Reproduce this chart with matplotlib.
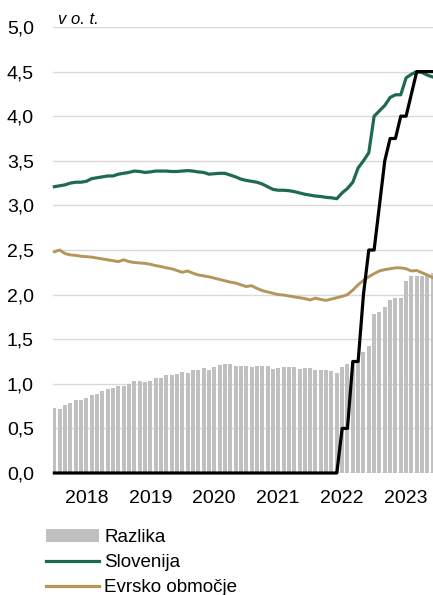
import matplotlib
matplotlib.use("Agg")
import matplotlib.pyplot as plt
import numpy as np
from matplotlib.patches import Patch
from matplotlib.lines import Line2D

# monthly data, Jan 2018 - Dec 2023
razlika = [0.73, 0.72, 0.76, 0.79, 0.815, 0.815, 0.84, 0.88, 0.89, 0.92,
           0.94, 0.955, 0.98, 0.97, 1.00, 1.03, 1.03, 1.015, 1.035, 1.06,
           1.07, 1.095, 1.095, 1.11, 1.135, 1.125, 1.15, 1.16, 1.175, 1.16,
           1.19, 1.21, 1.22, 1.22, 1.205, 1.20, 1.20, 1.19, 1.205, 1.205,
           1.195, 1.17, 1.175, 1.19, 1.19, 1.19, 1.17, 1.175, 1.175, 1.155,
           1.16, 1.155, 1.145, 1.12, 1.19, 1.22, 1.25, 1.26, 1.36, 1.42,
           1.78, 1.81, 1.86, 1.94, 1.965, 1.96, 2.155, 2.21, 2.21, 2.21,
           2.23, 2.24]
slovenija = [3.21, 3.22, 3.23, 3.25, 3.26, 3.26, 3.27, 3.30, 3.31, 3.32,
             3.33, 3.33, 3.35, 3.36, 3.37, 3.385, 3.38, 3.37, 3.375, 3.385,
             3.385, 3.385, 3.38, 3.38, 3.385, 3.39, 3.385, 3.375, 3.37, 3.35,
             3.355, 3.36, 3.36, 3.34, 3.32, 3.295, 3.28, 3.27, 3.26, 3.24,
             3.21, 3.18, 3.17, 3.17, 3.165, 3.155, 3.14, 3.125, 3.115, 3.105,
             3.10, 3.09, 3.085, 3.075, 3.14, 3.19, 3.26, 3.42, 3.50, 3.59,
             4.00, 4.06, 4.12, 4.21, 4.24, 4.24, 4.43, 4.47, 4.50, 4.49,
             4.46, 4.44]
evro = [2.48, 2.50, 2.46, 2.445, 2.44, 2.43, 2.425, 2.42, 2.41, 2.40,
        2.39, 2.38, 2.37, 2.39, 2.37, 2.36, 2.355, 2.35, 2.34, 2.325,
        2.315, 2.30, 2.29, 2.27, 2.25, 2.265, 2.24, 2.22, 2.21, 2.20,
        2.185, 2.17, 2.155, 2.14, 2.13, 2.11, 2.09, 2.10, 2.07, 2.045,
        2.03, 2.015, 2.00, 1.995, 1.985, 1.975, 1.965, 1.955, 1.94, 1.96,
        1.945, 1.935, 1.95, 1.965, 1.98, 2.00, 2.05, 2.11, 2.16, 2.20,
        2.235, 2.265, 2.28, 2.29, 2.30, 2.30, 2.29, 2.265, 2.27, 2.245,
        2.22, 2.19]
ecb = [0.0] * 54 + [0.5, 0.5, 1.25, 1.25, 2.0, 2.5, 2.5, 3.0, 3.5, 3.75,
                    3.75, 4.0, 4.0, 4.25, 4.5, 4.5, 4.5, 4.5]
years = ["2018", "2019", "2020", "2021", "2022", "2023"]
year_pos = [6, 18, 30, 42, 54, 66]   # july of each year

months = np.arange(len(razlika))

plt.rcParams["font.family"] = ["Liberation Sans", "DejaVu Sans"]

GREEN = "#1d6b4f"
GOLD = "#b4965a"
GREY = "#c0c0c0"

fig = plt.figure(figsize=(4.33, 5.95), dpi=100)
W, H = 433, 595
ax = fig.add_axes([52.5 / W, (H - 473) / H, (W - 52.5) / W, (473 - 27) / H])

ax.bar(months, razlika, width=0.75, color=GREY, zorder=2)
ax.plot(months, slovenija, color=GREEN, lw=2.3, zorder=3, clip_on=False)
ax.plot(months, evro, color=GOLD, lw=2.1, zorder=3, clip_on=False)
ax.plot(months, ecb, color="black", lw=2.3, zorder=4, clip_on=False)

ax.set_ylim(0, 5)
ax.set_xlim(-0.35, 71.05)
ax.set_yticks(np.arange(0, 5.01, 0.5))
ax.set_yticklabels([f"{v:.1f}".replace(".", ",") for v in np.arange(0, 5.01, 0.5)])
ax.set_xticks(year_pos)
ax.set_xticklabels(years)
ax.tick_params(axis="y", length=0, pad=13.5, labelsize=14)
ax.tick_params(axis="x", length=0, pad=12, labelsize=14)
ax.grid(axis="y", color="#d9d9d9", lw=1, zorder=0)
ax.set_axisbelow(True)
for s in ax.spines.values():
    s.set_visible(False)

fig.text(58 / W, 1 - 24 / H, "v o. t.", style="italic", fontsize=12, va="baseline")

handles = [Patch(facecolor=GREY, edgecolor="none"),
           Line2D([], [], color=GREEN, lw=2.3),
           Line2D([], [], color=GOLD, lw=2.3)]
labels = ["Razlika", "Slovenija", "Evrsko območje"]
fig.legend(handles, labels, loc="upper left", bbox_to_anchor=(46 / W, 1 - 529 / H),
           frameon=False, fontsize=13.5, handlelength=2.8, handletextpad=0.3,
           labelspacing=0.42, borderpad=0, borderaxespad=0)

fig.savefig("out.png", dpi=100)
